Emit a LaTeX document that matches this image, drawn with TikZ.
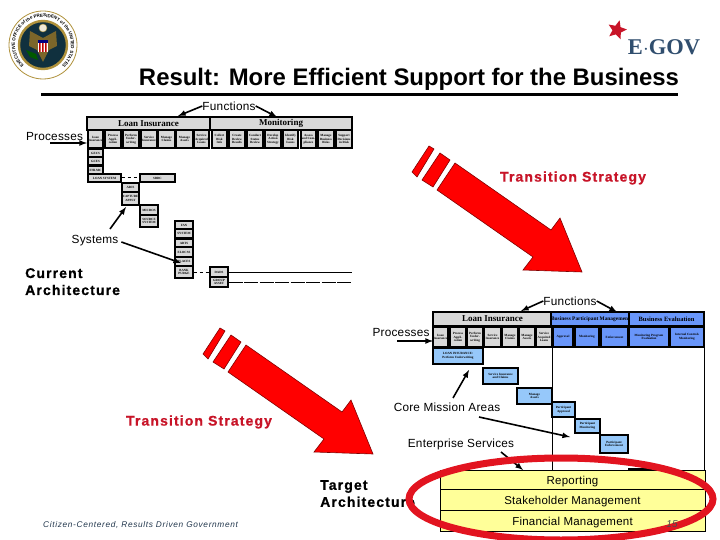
\documentclass[tikz,border=0pt]{standalone}
\usepackage{fontspec}
\setmainfont{Liberation Sans}
\newfontfamily\spacedfont[LetterSpace=8,BoldFeatures={FakeBold=0.8}]{Liberation Sans}
\newfontfamily\plainfont[LetterSpace=2]{Liberation Sans}
\newfontfamily\cellfont{Liberation Serif}
\usetikzlibrary{shapes.geometric,decorations.text}

\tikzset{
  label/.style={font=\plainfont\fontsize{11.8}{14}\selectfont, inner sep=0pt},
  headline/.style={font=\bfseries\fontsize{23.9}{26}\selectfont, inner sep=0pt},
  archlabel/.style={font=\spacedfont\bfseries\fontsize{14}{17}\selectfont, inner sep=0pt, align=left},
  redlabel/.style={font=\spacedfont\bfseries\fontsize{14}{15}\selectfont, text=stratred, inner sep=0pt},
  pointer/.style={-latex, line width=1.6pt},
  cell/.style={draw=black, line width=1.3pt, inner sep=0pt, align=center,
    font=\cellfont\bfseries\fontsize{3.2}{3.7}\selectfont},
  tophead/.style={cell, font=\cellfont\bfseries\fontsize{9}{10}\selectfont},
  band/.style={draw=black, line width=0.8pt, fill=bandyellow, inner sep=0pt,
    text height=10pt, text depth=1pt,
    font=\plainfont\fontsize{11.5}{14}\selectfont},
}

\begin{document}
\begin{tikzpicture}[x=1pt, y=-1pt]

\definecolor{stratred}{RGB}{200,20,40}
\definecolor{arrowred}{RGB}{255,0,0}
\definecolor{ringred}{RGB}{226,20,32}
\definecolor{cellgray}{RGB}{217,217,217}
\definecolor{coreblue}{RGB}{150,200,250}
\definecolor{svcblue}{RGB}{105,150,250}
\definecolor{bandyellow}{RGB}{255,255,153}
\definecolor{govblue}{RGB}{48,78,110}
\definecolor{sealnavy}{RGB}{16,48,62}
\definecolor{sealgold}{RGB}{176,146,60}

% ---------------- helper: box from corner to corner ----------------
\newcommand{\cellbox}[7][cellgray]{%
  \node[cell, fill=#1, minimum width={(#5-#3)*1pt}, minimum height={(#6-#4)*1pt}]
    (#2) at ({(#3+#5)/2},{(#4+#6)/2}) {#7};
}
% ---------------- helper: striped red arrow ----------------
\newcommand{\stratarrow}[2]{%
  \begin{scope}[shift={(#1,#2)}]
    \filldraw[fill=arrowred, draw=arrowred!50!black, line width=0.6pt]
      (455,163) -- (551,230) -- (560,218) -- (582,272) -- (523,270) -- (533,257) -- (437,190) -- cycle;
    \filldraw[fill=arrowred, draw=arrowred!50!black, line width=0.6pt]
      (440,153) -- (450,160) -- (433,187) -- (422,180) -- cycle;
    \filldraw[fill=arrowred, draw=arrowred!50!black, line width=0.6pt]
      (429,146) -- (434,149) -- (417,177) -- (412,172) -- cycle;
  \end{scope}
}

\useasboundingbox (0,0) rectangle (720,540);
\fill[white] (0,0) rectangle (720,540);

% =========== seal and logo ===========
\filldraw[fill=white, draw=sealgold, line width=0.8pt] (43,45) circle (34);
\path[decorate, decoration={text along path, text align=center,
    text={|\bfseries\fontsize{4.5}{5}\selectfont|EXECUTIVE OFFICE of the PRESIDENT of the UNITED STATES}}]
  (29,69.2) arc (120:420:28);
\filldraw[fill=sealnavy, draw=sealgold, line width=2.4pt] (43,45) circle (24);
\fill[sealgold!70!black] (43,38) -- (30,31) -- (29,46) -- (37,50) -- (43,62) -- (49,50) -- (57,46) -- (56,31) -- cycle;
\fill[green!35!black] (26,50) -- (36,54) -- (38,60) -- (30,57) -- cycle;
\fill[white] (38,40) rectangle (48,52);
\fill[red!75!black] (39,43) rectangle (40.5,52) (42,43) rectangle (43.5,52) (45,43) rectangle (46.5,52);
\fill[blue!50!black] (38,40) rectangle (48,43);
\filldraw[fill=white!80!sealgold, draw=sealgold] (43,28) circle (4);
\node[star, star points=5, star point ratio=2.2, fill=stratred, inner sep=0pt, minimum size=20pt, rotate=-15] (govstar) at (617,30) {};
\node[font=\cellfont\bfseries\fontsize{22.5}{24}\selectfont, text=govblue, inner sep=0pt] (egov) at (664,47) {E$\cdot$GOV};

% =========== headline ===========
\node[headline] (title) at (409,79.5) {Result: More Efficient Support for the Business};
\fill[black] (41,93.5) rectangle (678,96.5);

% =========== TOP: current architecture ===========
\node[tophead, fill=cellgray, minimum width=123pt, minimum height=13pt] (loanTop) at (148.5,123.5) {Loan Insurance};
\node[tophead, fill=cellgray, minimum width=142pt, minimum height=13pt] (monTop) at (281,123.5) {Monitoring};

\cellbox{topA}{88}{130}{103}{148}{Issue\\Insurance}
\cellbox{topB}{105}{130}{121}{148}{Process\\Appli-\\cation}
\cellbox{topC}{123}{130}{139}{148}{Perform\\Under-\\writing}
\cellbox{topD}{141}{130}{157}{148}{Service\\Insurance}
\cellbox{topE}{158}{130}{175}{148}{Manage\\Claims}
\cellbox{topF}{176}{130}{193}{148}{Manage\\Assets}
\cellbox{topG}{194}{130}{209}{148}{Service\\Acquired\\Loans}
\cellbox{topH}{212}{130}{227}{148}{Collect\\Risk\\Info}
\cellbox{topI}{229}{130}{245}{148}{Create\\Review\\Results}
\cellbox{topJ}{247}{130}{263}{148}{Conduct\\Status\\Review}
\cellbox{topK}{265}{130}{281}{148}{Develop\\Action\\Strategy}
\cellbox{topL}{283}{130}{298}{148}{Identify\\Risk\\Issues}
\cellbox{topM}{301}{130}{316}{148}{Assess\\and Com-\\pliance}
\cellbox{topN}{318}{130}{334}{148}{Manage\\Business\\Risks}
\cellbox{topO}{336}{130}{352}{148}{Support\\Decisions\\in Risk}

\cellbox{sysA}{88}{149}{103}{157}{GECS}
\cellbox{sysB}{88}{157}{103}{165}{GCES}
\cellbox{sysC}{88}{166}{103}{174}{FHLMC}
\cellbox{sysD}{88}{174}{121}{182}{LOAN SYSTEM}
\cellbox{sysE}{140}{174}{175}{182}{SBDC}
\cellbox{sysF}{122}{183}{139}{192}{ARIS}
\cellbox{sysG}{122}{192}{139}{205}{CAPTURE\\APPLY}
\cellbox{sysH}{140}{205}{158}{215}{MICROS}
\cellbox{sysI}{140}{215}{158}{227}{SOURCE\\SYSTEM}
\cellbox{sysJ}{175}{221}{193}{229}{FAN}
\cellbox{sysK}{175}{229}{193}{238}{SYSTEM}
\cellbox{sysL}{175}{239}{193}{247}{ARTS}
\cellbox{sysM}{175}{247}{193}{257}{ELOCSS}
\cellbox{sysN}{175}{257}{193}{266}{PLACES}
\cellbox{sysO}{175}{266}{193}{278}{BANK\\PURGE}
\cellbox{sysP}{210}{267}{228}{277}{DADS}
\cellbox{sysQ}{210}{277}{228}{287}{GROUP\\ASSET}

\draw[line width=1pt, dashed] (sysD.east) -- (sysE.west);
\draw[line width=0.7pt, dashed] (sysO.east) -- (sysP.west);
\coordinate (rowEndA) at (352,272);
\coordinate (rowEndB) at (352,282);
\draw[line width=0.7pt] (sysP.east) -- (rowEndA);
\draw[line width=0.7pt, dash pattern=on 14pt off 1.5pt] (sysQ.east) -- (rowEndB);

\node[label] (topFunctions) at (229,106) {Functions};
\node[label] (topProcesses) at (54.5,136) {Processes};
\node[label] (topSystems) at (95,241) {Systems};
\coordinate (funcEndA) at (178,116);
\coordinate (funcEndB) at (277,117);
\coordinate (procStart) at (50,143);
\coordinate (procEnd) at (87,143);
\coordinate (sysStartA) at (110,229);
\coordinate (sysEndA) at (126,207);
\coordinate (sysEndB) at (181,263);
\draw[pointer] (topFunctions.west) -- (funcEndA);
\draw[pointer] (topFunctions.east) -- (funcEndB);
\draw[pointer] (procStart) -- (procEnd);
\draw[pointer] (sysStartA) -- (sysEndA);
\draw[pointer, shorten <=3pt] (topSystems.east) -- (sysEndB);

\node[archlabel, anchor=north west] (current) at (25,268) {Current\\Architecture};
\node[redlabel] (stratTop) at (573,178) {Transition Strategy};

% =========== red arrows ===========
\stratarrow{0}{0}
\stratarrow{-209}{182}
\node[redlabel] (stratLow) at (199,422) {Transition Strategy};

% =========== BOTTOM: target architecture ===========
\draw[line width=0.8pt] (552,347) -- (552,470);
\draw[line width=0.8pt] (704,347) -- (704,470);
\node[tophead, fill=cellgray, minimum width=119pt, minimum height=14pt] (loanLow) at (492.5,319) {Loan Insurance};
\node[tophead, fill=svcblue, minimum width=77pt, minimum height=14pt, font=\cellfont\bfseries\fontsize{5.4}{6}\selectfont] (partLow) at (590.5,319) {Business Participant Management};
\node[tophead, fill=svcblue, minimum width=75pt, minimum height=14pt, font=\cellfont\bfseries\fontsize{6.5}{7}\selectfont] (evalLow) at (666.5,319) {Business Evaluation};

\cellbox{lowA}{433}{327}{448}{347}{Issue\\Insurance}
\cellbox{lowB}{450}{327}{466}{347}{Process\\Appli-\\cation}
\cellbox{lowC}{467}{327}{483}{347}{Perform\\Under-\\writing}
\cellbox{lowD}{484}{327}{501}{347}{Service\\Insurance}
\cellbox{lowE}{502}{327}{518}{347}{Manage\\Claims}
\cellbox{lowF}{519}{327}{535}{347}{Manage\\Assets}
\cellbox{lowG}{536}{327}{552}{347}{Service\\Acquired\\Loans}
\cellbox[svcblue]{lowH}{553}{327}{573}{347}{Approval}
\cellbox[svcblue]{lowI}{575}{327}{599}{347}{Monitoring}
\cellbox[svcblue]{lowJ}{601}{327}{628}{347}{Enforcement}
\cellbox[svcblue]{lowK}{629}{327}{669}{347}{Monitoring Program\\Evaluation}
\cellbox[svcblue]{lowL}{670}{327}{704}{347}{Internal Controls\\Monitoring}

\cellbox[coreblue]{coreA}{433}{348}{483}{364}{LOAN INSURANCE:\\Perform Underwriting}
\cellbox[coreblue]{coreB}{483}{368}{518}{384}{Service Insurance\\and Claims}
\cellbox[coreblue]{coreC}{517}{388}{552}{404}{Manage\\Assets}
\cellbox[coreblue]{coreD}{552}{402}{575}{417}{Participant\\Approval}
\cellbox[coreblue]{coreE}{575}{419}{600}{433}{Participant\\Monitoring}
\cellbox[coreblue]{coreF}{600}{435}{628}{453}{Participant\\Enforcement}

\node[label] (lowFunctions) at (570,301) {Functions};
\node[label] (lowProcesses) at (401,332) {Processes};
\node[label] (lowCore) at (447,407) {Core Mission Areas};
\node[label] (lowServices) at (461,444.5) {Enterprise Services};
\coordinate (lowFuncEndA) at (521,311);
\coordinate (lowFuncEndB) at (617,312);
\coordinate (lowProcStart) at (397,341);
\coordinate (lowProcEnd) at (433,341);
\coordinate (coreStartA) at (453,398);
\coordinate (coreEndA) at (469,370);
\coordinate (coreStartB) at (479,417);
\coordinate (coreEndB) at (570,437);
\coordinate (svcStart) at (501,452);
\coordinate (svcEnd) at (523,470);
\draw[pointer] (lowFunctions.west) -- (lowFuncEndA);
\draw[pointer] (lowFunctions.east) -- (lowFuncEndB);
\draw[pointer] (lowProcStart) -- (lowProcEnd);
\draw[pointer] (coreStartA) -- (coreEndA);
\draw[pointer] (coreStartB) -- (coreEndB);
\draw[pointer] (svcStart) -- (svcEnd);

\node[archlabel, anchor=north west] (target) at (320,480) {Target\\Architecture};

% yellow bands and red ring
\draw[line width=2.5pt] (628,469) -- (657,469);
\node[band, minimum width=265pt, minimum height=19pt] (bandA) at (572.5,479.5) {Reporting};
\node[band, minimum width=265pt, minimum height=21pt] (bandB) at (572.5,499.5) {Stakeholder Management};
\node[band, minimum width=265pt, minimum height=21pt] (bandC) at (572.5,520.5) {Financial Management};
\draw[ringred, line width=7pt] (561,499) ellipse (152 and 41);
\node[font=\itshape\fontsize{10}{12}\selectfont, text=black!70, inner sep=0pt] (pageNo) at (672,524) {15};

\node[font=\spacedfont\itshape\fontsize{8.3}{10}\selectfont, text=govblue!70!black, inner sep=0pt, anchor=west] (footer) at (43,525) {Citizen-Centered, Results Driven Government};

\end{tikzpicture}
\end{document}
